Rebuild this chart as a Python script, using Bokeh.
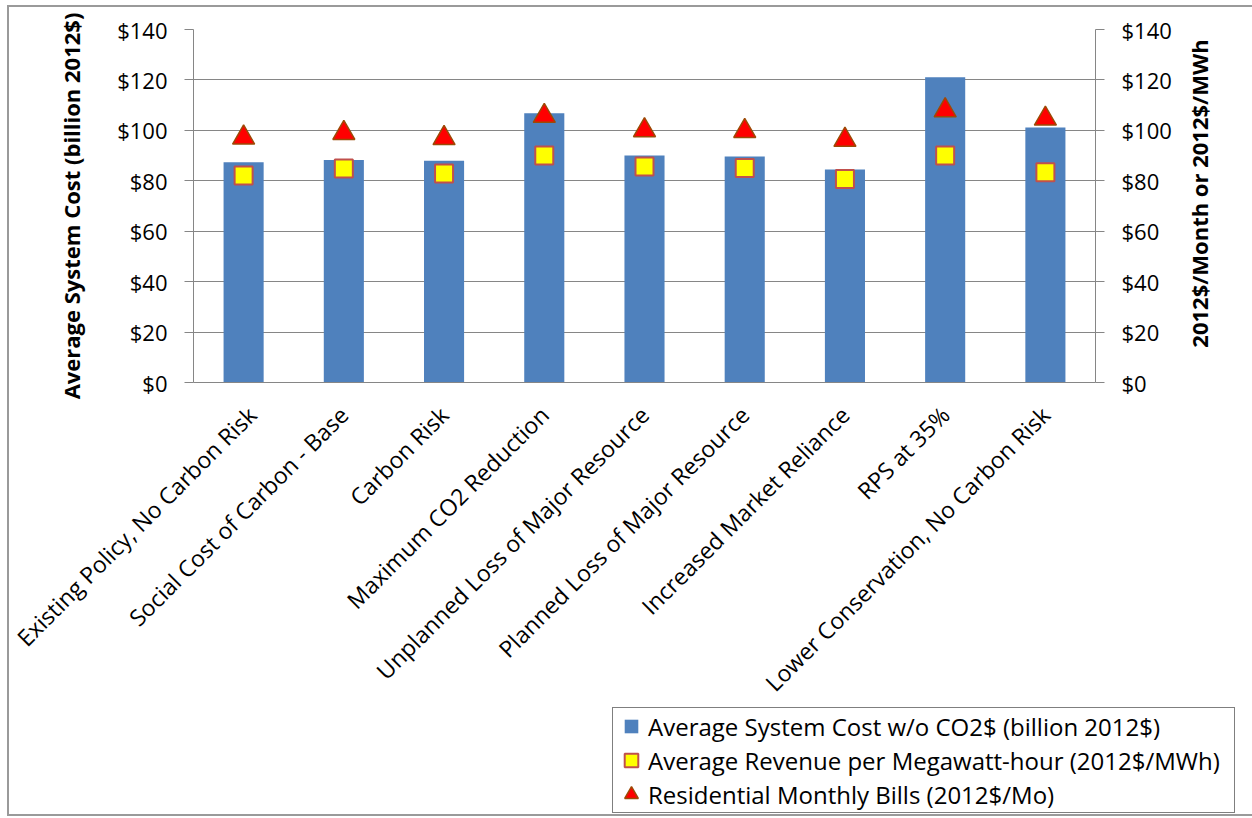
import math

from bokeh.embed import file_html
from bokeh.layouts import row
from bokeh.models import (ColumnDataSource, FactorRange, FixedTicker, GridBox,
                          Legend, LegendItem, LinearAxis, NumeralTickFormatter,
                          Range1d, SingleIntervalTicker)
from bokeh.plotting import figure
from bokeh.resources import INLINE

# Resource scenarios compared
scenarios = [
    "Existing Policy, No Carbon Risk",
    "Social Cost of Carbon - Base",
    "Carbon Risk",
    "Maximum CO2 Reduction",
    "Unplanned Loss of Major Resource",
    "Planned Loss of Major Resource",
    "Increased Market Reliance",
    "RPS at 35%",
    "Lower Conservation, No Carbon Risk",
]
# Average system cost w/o CO2$ (billion 2012$), left axis
system_cost = [87.4, 88.2, 87.9, 106.8, 90.0, 89.6, 84.5, 121.1, 101.1]
# Average revenue per MWh (2012$/MWh), right axis
revenue_per_mwh = [82.1, 84.9, 82.9, 90.0, 85.7, 85.1, 80.7, 90.0, 83.4]
# Residential monthly bills (2012$/Mo), right axis
monthly_bill = [97.1, 98.9, 96.9, 105.7, 100.0, 99.7, 96.2, 107.9, 104.6]

axis_min, axis_max, axis_step = 0, 140, 20

left_title = "Average System Cost (billion 2012$)"
right_title = "2012$/Month or 2012$/MWh"
series_names = [
    "Average System Cost w/o CO2$ (billion 2012$)",
    "Average Revenue per Megawatt-hour (2012$/MWh)",
    "Residential Monthly Bills (2012$/Mo)",
]

FONT = "Open Sans"
GRID = "#868686"
BAR_BLUE = "#4F81BD"
SQ_FILL, SQ_LINE = "#FFFF00", "#C0504D"
TRI_FILL, TRI_LINE = "#FF0000", "#9C4A06"

W, H = 1243, 807

source = ColumnDataSource(dict(
    scenario=scenarios,
    cost=system_cost,
    revenue=revenue_per_mwh,
    bill=monthly_bill,
))

# ---------------------------------------------------------------- main chart
p = figure(
    width=W, height=H,
    x_range=FactorRange(factors=scenarios),
    y_range=Range1d(axis_min, axis_max),
    output_backend="svg",
    toolbar_location=None,
    min_border_left=184, min_border_right=157,
    min_border_top=22, min_border_bottom=432,
)
p.extra_y_ranges = {"secondary": Range1d(axis_min, axis_max)}
p.outline_line_color = None
p.background_fill_color = "white"
p.border_fill_color = "white"

p.xgrid.grid_line_color = None
p.ygrid.grid_line_color = GRID
p.ygrid.grid_line_width = 1

left = p.yaxis[0]
left.ticker = SingleIntervalTicker(interval=axis_step, num_minor_ticks=0)
left.formatter = NumeralTickFormatter(format="$0")
left.axis_label = left_title

right = LinearAxis(
    y_range_name="secondary",
    ticker=SingleIntervalTicker(interval=axis_step, num_minor_ticks=0),
    formatter=NumeralTickFormatter(format="$0"),
)
p.add_layout(right, "right")

for ax in (left, right):
    ax.axis_line_color = GRID
    ax.major_tick_line_color = GRID
    ax.major_tick_out = 9
    ax.major_tick_in = 0
    ax.minor_tick_line_color = None
    ax.major_label_text_font = FONT
    ax.major_label_text_font_size = "22px"
    ax.major_label_text_color = "black"
    ax.major_label_standoff = 17
left.axis_label_text_font = FONT
left.axis_label_text_font_size = "22px"
left.axis_label_text_font_style = "bold"
left.axis_label_text_color = "black"
left.axis_label_standoff = 28

xax = p.xaxis[0]
xax.axis_line_color = GRID
xax.major_tick_line_color = None
xax.major_tick_out = 0
xax.major_tick_in = 0
xax.minor_tick_line_color = None
xax.major_label_orientation = math.pi / 4
xax.major_label_text_font = FONT
xax.major_label_text_font_size = "23px"
xax.major_label_text_color = "black"
xax.major_label_standoff = 28

p.vbar(x="scenario", top="cost", width=0.4, source=source,
       fill_color=BAR_BLUE, line_color=None)
p.scatter(x="scenario", y="revenue", source=source, marker="square",
          size=18, fill_color=SQ_FILL, line_color=SQ_LINE, line_width=2,
          y_range_name="secondary")
p.scatter(x="scenario", y="bill", source=source, marker="triangle",
          size=22, fill_color=TRI_FILL, line_color=TRI_LINE, line_width=1.5,
          y_range_name="secondary")

# ------------------------- secondary axis title (reads upward), layered on top
t = figure(
    width=W, height=H,
    x_range=Range1d(0, 1), y_range=Range1d(0, 1),
    x_axis_type=None, y_axis_type=None,
    output_backend="svg", toolbar_location=None,
    min_border_left=1211, min_border_right=W - 1211 - 10,
    min_border_top=22, min_border_bottom=H - 350,
)
t.outline_line_color = None
t.border_fill_color = None
t.background_fill_color = None
title_axis = LinearAxis(
    ticker=FixedTicker(ticks=[]),
    axis_label=right_title,
    axis_line_color=None,
    major_tick_line_color=None, minor_tick_line_color=None,
    major_tick_out=0, major_tick_in=0,
    major_label_standoff=0,
    axis_label_standoff=7,
    axis_label_text_font=FONT,
    axis_label_text_font_size="22px",
    axis_label_text_font_style="bold",
    axis_label_text_color="black",
)
t.add_layout(title_axis, "left")

# ------------------------------------------ legend, layered over the chart
g = figure(
    width=W, height=H,
    x_range=FactorRange(factors=scenarios),
    y_range=Range1d(axis_min, axis_max),
    x_axis_type=None, y_axis_type=None,
    output_backend="svg", toolbar_location=None,
    min_border=0,
)
g.outline_line_color = None
g.border_fill_color = None
g.background_fill_color = None
# hidden series keys, used only for their legend swatches
bar_key = g.scatter(x="scenario", y="cost", source=source, marker="square",
                    fill_color=BAR_BLUE, line_color=None, visible=False)
sq_key = g.scatter(x="scenario", y="revenue", source=source, marker="square",
                   fill_color=SQ_FILL, line_color=SQ_LINE, line_width=2,
                   visible=False)
tri_key = g.scatter(x="scenario", y="bill", source=source, marker="triangle",
                    fill_color=TRI_FILL, line_color=TRI_LINE, line_width=1.5,
                    visible=False)

legend = Legend(
    items=[
        LegendItem(label=series_names[0], renderers=[bar_key]),
        LegendItem(label=series_names[1], renderers=[sq_key]),
        LegendItem(label=series_names[2], renderers=[tri_key]),
    ],
    location=(603, 1),
    orientation="vertical",
    label_text_font=FONT,
    label_text_font_size="24px",
    label_text_color="black",
    glyph_width=34, glyph_height=34,
    spacing=0, padding=1, margin=0,
    label_standoff=0, label_width=585,
    border_line_color="black", border_line_width=1,
    background_fill_color="white", background_fill_alpha=1.0,
)
g.add_layout(legend)

# the three layers share one grid cell; each plot is wrapped on its own so
# their frames are laid out independently
layout = GridBox(
    children=[(row(p), 0, 0), (row(t), 0, 0), (g, 0, 0)],
    styles={
        "margin-left": "9px",
        "margin-top": "7px",
        "outline": "2px solid #9a9a9a",
    },
)

open("out.html", "w").write(file_html(layout, INLINE))
